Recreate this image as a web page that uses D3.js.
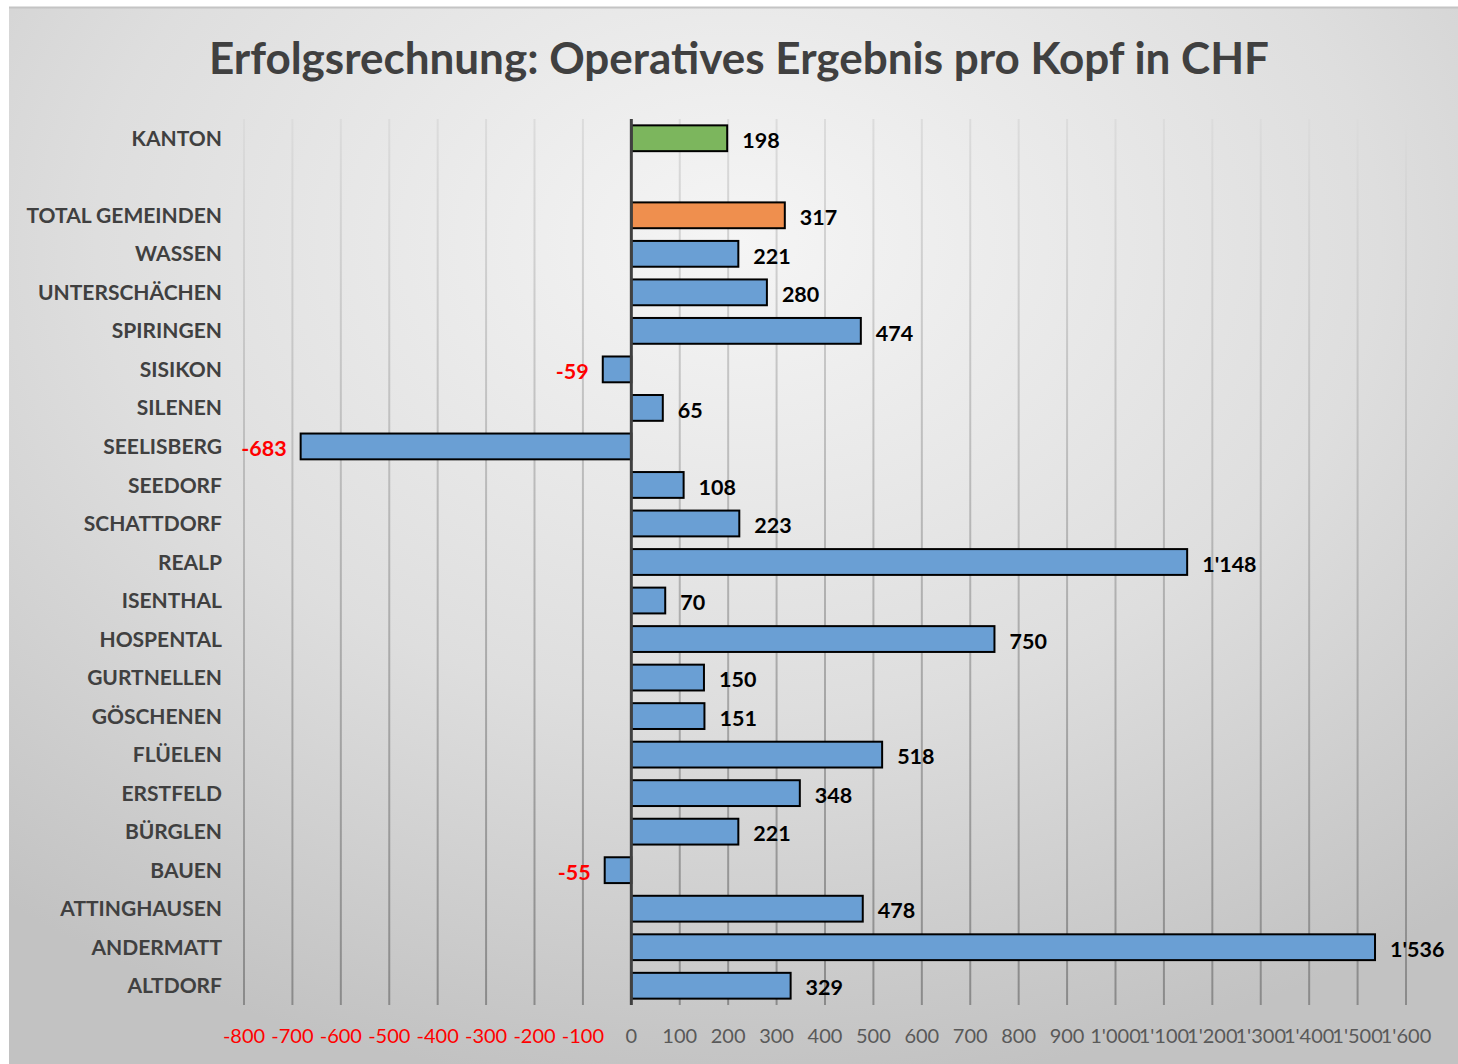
<!DOCTYPE html>
<html lang="de">
<head>
<meta charset="utf-8">
<title>Erfolgsrechnung</title>
<script src="https://cdn.jsdelivr.net/npm/d3@7/dist/d3.min.js"></script>
<style>
  body { margin: 0; background: #fff; }
  svg text { font-family: Lato, "Open Sans", sans-serif; }
</style>
</head>
<body>
<svg id="chart"></svg>
<script>
// data, top to bottom (empty entry = spacer row)
var categories = ["KANTON", "", "TOTAL GEMEINDEN", "WASSEN", "UNTERSCHÄCHEN", "SPIRINGEN",
  "SISIKON", "SILENEN", "SEELISBERG", "SEEDORF", "SCHATTDORF", "REALP", "ISENTHAL",
  "HOSPENTAL", "GURTNELLEN", "GÖSCHENEN", "FLÜELEN", "ERSTFELD", "BÜRGLEN", "BAUEN",
  "ATTINGHAUSEN", "ANDERMATT", "ALTDORF"];
var values = [198, null, 317, 221, 280, 474, -59, 65, -683, 108, 223, 1148, 70,
  750, 150, 151, 518, 348, 221, -55, 478, 1536, 329];
var tickValues = [-800, -700, -600, -500, -400, -300, -200, -100, 0, 100, 200, 300, 400,
  500, 600, 700, 800, 900, 1000, 1100, 1200, 1300, 1400, 1500, 1600];

var W = 1458, H = 1064;
var svg = d3.select("#chart").attr("width", W).attr("height", H);
var defs = svg.append("defs");

var bg = defs.append("radialGradient").attr("id", "bg")
  .attr("cx", "50%").attr("cy", "22%").attr("r", "80%");
bg.append("stop").attr("offset", "0%").attr("stop-color", "#f5f5f5");
bg.append("stop").attr("offset", "55%").attr("stop-color", "#dedede");
bg.append("stop").attr("offset", "100%").attr("stop-color", "#c2c2c2");

var gridGrad = defs.append("linearGradient").attr("id", "gridGrad")
  .attr("gradientUnits", "userSpaceOnUse")
  .attr("x1", 0).attr("y1", 119).attr("x2", 0).attr("y2", 1005);
gridGrad.append("stop").attr("offset", "0%").attr("stop-color", "#dcdcdc");
gridGrad.append("stop").attr("offset", "100%").attr("stop-color", "#8a8a8a");

// chart area
svg.append("rect").attr("x", 9).attr("y", 7).attr("width", W).attr("height", H)
  .attr("fill", "url(#bg)");
svg.append("line").attr("x1", 9).attr("x2", W).attr("y1", 7.5).attr("y2", 7.5)
  .attr("stroke", "#c4c4c4").attr("stroke-width", 2);

svg.append("text")
  .attr("x", 739).attr("y", 74)
  .attr("text-anchor", "middle")
  .attr("font-size", 44).attr("font-weight", "bold")
  .attr("fill", "#404040")
  .text("Erfolgsrechnung: Operatives Ergebnis pro Kopf in CHF");

var x = d3.scaleLinear().domain([-800, 1600]).range([244, 1406]);
var y = d3.scaleBand().domain(d3.range(categories.length))
  .range([119, 1005]).paddingInner(0.33).paddingOuter(0.165);

var loc = d3.formatLocale({ decimal: ".", thousands: "'", grouping: [3], currency: ["", ""], minus: "-" });
var fmt = loc.format(",");

// gridlines
svg.append("g").selectAll("line").data(tickValues.filter(function (d) { return d !== 0; }))
  .join("line")
  .attr("x1", function (d) { return x(d); }).attr("x2", function (d) { return x(d); })
  .attr("y1", 119).attr("y2", 1005)
  .attr("stroke", "url(#gridGrad)").attr("stroke-width", 2);

// tick labels
svg.append("g").selectAll("text").data(tickValues)
  .join("text")
  .attr("x", function (d) { return x(d); })
  .attr("y", 1043)
  .attr("text-anchor", "middle")
  .attr("font-size", 20)
  .attr("fill", function (d) { return d < 0 ? "#ff0000" : "#595959"; })
  .text(function (d) { return fmt(d); });

// category labels
svg.append("g").selectAll("text").data(categories)
  .join("text")
  .attr("x", 222)
  .attr("y", function (d, i) { return y(i) + y.bandwidth() / 2; })
  .attr("dy", "0.36em")
  .attr("text-anchor", "end")
  .attr("font-size", 21).attr("font-weight", "bold")
  .attr("fill", "#404040")
  .text(function (d) { return d; });

function barColor(name) {
  if (name === "KANTON") return "#7cb65d";
  if (name === "TOTAL GEMEINDEN") return "#ef8f4e";
  return "#6a9fd4";
}

var rows = categories.map(function (c, i) { return { name: c, value: values[i], i: i }; })
  .filter(function (d) { return d.value !== null; });

svg.append("g").selectAll("rect").data(rows)
  .join("rect")
  .attr("x", function (d) { return x(Math.min(0, d.value)); })
  .attr("y", function (d) { return y(d.i); })
  .attr("width", function (d) { return Math.abs(x(d.value) - x(0)); })
  .attr("height", y.bandwidth())
  .attr("fill", function (d) { return barColor(d.name); })
  .attr("stroke", "#000").attr("stroke-width", 2);

// value labels
svg.append("g").selectAll("text").data(rows)
  .join("text")
  .attr("x", function (d) { return d.value < 0 ? x(d.value) - 14 : x(d.value) + 15; })
  .attr("y", function (d) { return y(d.i) + y.bandwidth() / 2 + 2; })
  .attr("dy", "0.36em")
  .attr("text-anchor", function (d) { return d.value < 0 ? "end" : "start"; })
  .attr("font-size", 21.5).attr("font-weight", "bold")
  .attr("fill", function (d) { return d.value < 0 ? "#ff0000" : "#000"; })
  .text(function (d) { return fmt(d.value); });

// zero axis
svg.append("line")
  .attr("x1", x(0)).attr("x2", x(0)).attr("y1", 119).attr("y2", 1005)
  .attr("stroke", "#404040").attr("stroke-width", 3);
</script>
</body>
</html>
